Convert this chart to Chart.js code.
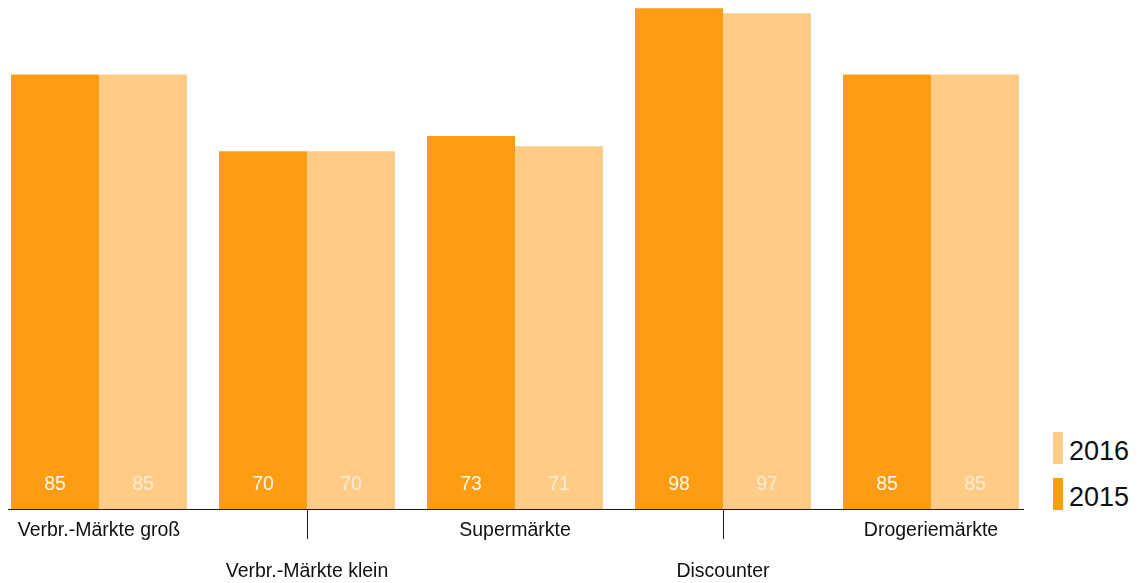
<!DOCTYPE html>
<html>
<head>
<meta charset="utf-8">
<script src="https://cdn.jsdelivr.net/npm/chart.js@4"></script>
<style>
    html, body { margin: 0; padding: 0; background: #fff; }
    #page { position: relative; width: 1139px; height: 583px; overflow: hidden; }
    #chart-wrap { position: absolute; left: -5px; top: 0; width: 1040px; height: 583px; }
    #legend { position: absolute; left: 1053px; top: 432px; font-family: "Liberation Sans", Arial, Helvetica, sans-serif; }
    .legend-item { display: flex; align-items: center; height: 32px; margin-bottom: 14px; }
    .legend-swatch { width: 10px; height: 32px; margin-right: 6px; }
    .legend-text { font-size: 27px; color: #111; line-height: 32px; position: relative; top: 3px; }
</style>
</head>
<body>
<div id="page">
    <div id="chart-wrap"><canvas id="chart"></canvas></div>
    <div id="legend"></div>
</div>
<script>
// Store formats
const categories = ['Verbr.-Märkte groß', 'Verbr.-Märkte klein', 'Supermärkte', 'Discounter', 'Drogeriemärkte'];

// Index values per year
const values2015 = [85, 70, 73, 98, 85];
const values2016 = [85, 70, 71, 97, 85];

const yearLabels = ['2015', '2016'];
const yearColors = ['#FF9D12', '#FFCC87'];
const valueTextColors = ['rgba(255,255,255,0.93)', 'rgba(255,255,255,0.62)'];

const FONT = '"Liberation Sans", Arial, Helvetica, sans-serif';

// Value labels, baseline, connector ticks and staggered category names
const barDecor = {
    id: 'barDecor',
    afterDatasetsDraw(chart) {
        const ctx = chart.ctx;
        const xScale = chart.scales.x;
        const area = chart.chartArea;

        ctx.save();
        ctx.font = '19.5px ' + FONT;
        ctx.textAlign = 'center';
        ctx.textBaseline = 'middle';
        chart.data.datasets.forEach((ds, di) => {
            const meta = chart.getDatasetMeta(di);
            ctx.fillStyle = valueTextColors[di];
            meta.data.forEach((bar, i) => {
                ctx.fillText(String(ds.data[i]), bar.x, area.bottom - 24);
            });
        });

        // baseline
        ctx.strokeStyle = '#1a1a1a';
        ctx.lineWidth = 1.2;
        ctx.beginPath();
        ctx.moveTo(13, area.bottom + 0.5);
        ctx.lineTo(1029, area.bottom + 0.5);
        ctx.stroke();

        // category names, every other one dropped to a second row
        ctx.fillStyle = '#111';
        ctx.lineWidth = 1;
        categories.forEach((name, i) => {
            const x = xScale.getPixelForValue(i);
            if (i % 2 === 1) {
                const px = Math.round(x) + 0.5;
                ctx.beginPath();
                ctx.moveTo(px, area.bottom);
                ctx.lineTo(px, area.bottom + 30);
                ctx.stroke();
                ctx.fillText(name, x, area.bottom + 63);
            } else {
                ctx.fillText(name, x, area.bottom + 22);
            }
        });
        ctx.restore();
    }
};

const ctx = document.getElementById('chart').getContext('2d');
new Chart(ctx, {
    type: 'bar',
    data: {
        labels: categories,
        datasets: [
            { label: yearLabels[0], data: values2015, backgroundColor: yearColors[0] },
            { label: yearLabels[1], data: values2016, backgroundColor: yearColors[1] }
        ]
    },
    options: {
        responsive: true,
        maintainAspectRatio: false,
        animation: false,
        layout: { padding: { top: 0, bottom: 74, left: 0, right: 0 } },
        datasets: { bar: { categoryPercentage: 176 / 208, barPercentage: 1, borderWidth: 0 } },
        scales: {
            x: { display: false, offset: true },
            y: { display: false, min: 0, max: 99.6 }
        },
        plugins: {
            legend: { display: false },
            tooltip: { enabled: false }
        }
    },
    plugins: [barDecor]
});

// Legend, newest year on top
const legend = document.getElementById('legend');
[1, 0].forEach(i => {
    const item = document.createElement('div');
    item.className = 'legend-item';
    item.innerHTML = `<div class="legend-swatch" style="background:${yearColors[i]}"></div><span class="legend-text">${yearLabels[i]}</span>`;
    legend.appendChild(item);
});
</script>
</body>
</html>
